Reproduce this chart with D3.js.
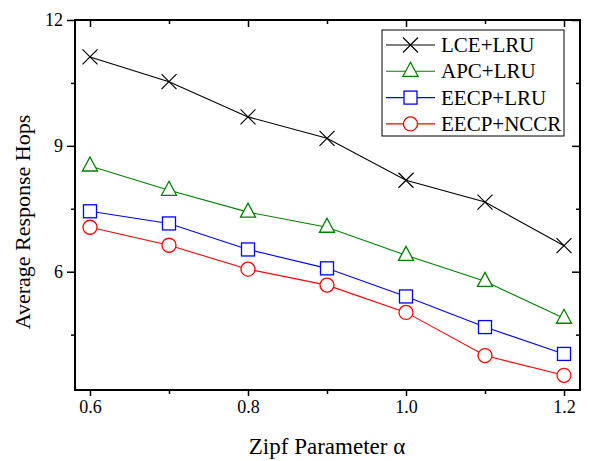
<!DOCTYPE html>
<html><head><meta charset="utf-8">
<script src="https://cdn.jsdelivr.net/npm/d3@7"></script>
<style>body{margin:0;background:#fff}svg{display:block}text{font-family:"Liberation Serif","Times New Roman",serif;fill:#000}</style>
</head><body><svg id="c" width="589" height="461"></svg>
<script>
const alphas = [0.6, 0.7, 0.8, 0.9, 1.0, 1.1, 1.2];
const lceLru  = [11.12, 10.53, 9.69, 9.18, 8.18, 7.66, 6.62];
const apcLru  = [8.52, 7.94, 7.42, 7.06, 6.39, 5.77, 4.89];
const eecpLru = [7.44, 7.15, 6.53, 6.08, 5.41, 4.68, 4.04];
const eecpNccr= [7.06, 6.63, 6.06, 5.68, 5.03, 4.00, 3.53];
const seriesNames = ["LCE+LRU", "APC+LRU", "EECP+LRU", "EECP+NCCR"];
const xTicks = [0.6, 0.7, 0.8, 0.9, 1.0, 1.1, 1.2];
const xLabelTicks = [0.6, 0.8, 1.0, 1.2];
const yTicks = [4.5, 6, 7.5, 9, 10.5, 12];
const yLabelTicks = [6, 9, 12];

const series = [
  {name: seriesNames[0], values: lceLru, color: "#000000", marker: "x"},
  {name: seriesNames[1], values: apcLru, color: "#008000", marker: "tri"},
  {name: seriesNames[2], values: eecpLru, color: "#0000ff", marker: "sq"},
  {name: seriesNames[3], values: eecpNccr, color: "#ff0000", marker: "circ"}
];

const L = 75, R = 580, T = 20, B = 390;
const svg = d3.select("#c");
const x = d3.scaleLinear().domain([0.6, 1.2]).range([90, 564]);
const y = d3.scaleLinear().domain([3.18, 12]).range([B, T]);
const isMajX = d => xLabelTicks.some(v => Math.abs(v - d) < 1e-9);
const isMajY = d => yLabelTicks.some(v => Math.abs(v - d) < 1e-9);

// axes
const gB = svg.append("g").attr("transform", `translate(0,${B})`)
  .call(d3.axisBottom(x).tickValues(xTicks).tickFormat(d => isMajX(d) ? d3.format(".1f")(d) : "").tickSizeOuter(0));
gB.selectAll(".tick line").attr("y2", d => isMajX(d) ? 6 : 4);
gB.selectAll(".tick text").attr("y", 10).attr("font-size", 18);
const gT = svg.append("g").attr("transform", `translate(0,${T})`)
  .call(d3.axisTop(x).tickValues(xTicks).tickFormat("").tickSizeOuter(0));
gT.selectAll(".tick line").attr("y2", d => isMajX(d) ? 7 : 4);
const gL = svg.append("g").attr("transform", `translate(${L},0)`)
  .call(d3.axisLeft(y).tickValues(yTicks).tickFormat(d => isMajY(d) ? d : "").tickSizeOuter(0));
gL.selectAll(".tick line").attr("x2", d => isMajY(d) ? -8 : -4);
gL.selectAll(".tick text").attr("x", -12).attr("font-size", 18);
const gR = svg.append("g").attr("transform", `translate(${R},0)`)
  .call(d3.axisRight(y).tickValues(yTicks).tickFormat("").tickSizeOuter(0));
gR.selectAll(".tick line").attr("x2", d => isMajY(d) ? -8 : -4);
svg.selectAll(".domain").remove();
svg.selectAll("g").attr("font-family", null);
svg.selectAll(".tick line").attr("stroke", "#000").attr("stroke-width", 1.5);
svg.selectAll(".tick text").attr("fill", "#000");
svg.append("rect").attr("x", L).attr("y", T).attr("width", R - L).attr("height", B - T)
  .attr("fill", "none").attr("stroke", "#000").attr("stroke-width", 2);

function marker(g, type, color, cx, cy) {
  if (type === "x") {
    const s = 7.5;
    g.append("path").attr("d", `M${cx-s},${cy-s}L${cx+s},${cy+s}M${cx-s},${cy+s}L${cx+s},${cy-s}`)
      .attr("stroke", color).attr("stroke-width", 1.2).attr("fill", "none");
  } else if (type === "tri") {
    g.append("path").attr("d", `M${cx},${cy-9}L${cx+7.5},${cy+5}L${cx-7.5},${cy+5}Z`)
      .attr("stroke", color).attr("stroke-width", 1.3).attr("fill", "#fff");
  } else if (type === "sq") {
    g.append("rect").attr("x", cx-6.5).attr("y", cy-6.5).attr("width", 13).attr("height", 13)
      .attr("stroke", color).attr("stroke-width", 1.3).attr("fill", "#fff");
  } else {
    g.append("circle").attr("cx", cx).attr("cy", cy).attr("r", 7)
      .attr("stroke", color).attr("stroke-width", 1.3).attr("fill", "#fff");
  }
}

const line = d3.line().x((d, i) => x(alphas[i])).y(d => y(d));
series.forEach(s => {
  const g = svg.append("g");
  g.append("path").attr("d", line(s.values)).attr("fill", "none").attr("stroke", s.color).attr("stroke-width", 1.1);
  s.values.forEach((v, i) => marker(g, s.marker, s.color, x(alphas[i]), y(v)));
});

// legend
const lg = svg.append("g");
lg.append("rect").attr("x", 382).attr("y", 30).attr("width", 182).attr("height", 106)
  .attr("fill", "#fff").attr("stroke", "#000").attr("stroke-width", 1);
series.forEach((s, i) => {
  const cy = 45 + i * 26.3;
  lg.append("line").attr("x1", 386).attr("x2", 435).attr("y1", cy).attr("y2", cy).attr("stroke", s.color).attr("stroke-width", 1.1);
  marker(lg, s.marker, s.color, 410.5, cy);
  lg.append("text").attr("x", 441).attr("y", cy + 7).attr("font-size", 21).text(s.name);
});

// titles
svg.append("text").attr("x", 327).attr("y", 454).attr("text-anchor", "middle").attr("font-size", 23).text("Zipf Parameter α");
svg.append("text").attr("transform", "translate(30,222) rotate(-90)").attr("text-anchor", "middle").attr("font-size", 22).text("Average Response Hops");
</script></body></html>
